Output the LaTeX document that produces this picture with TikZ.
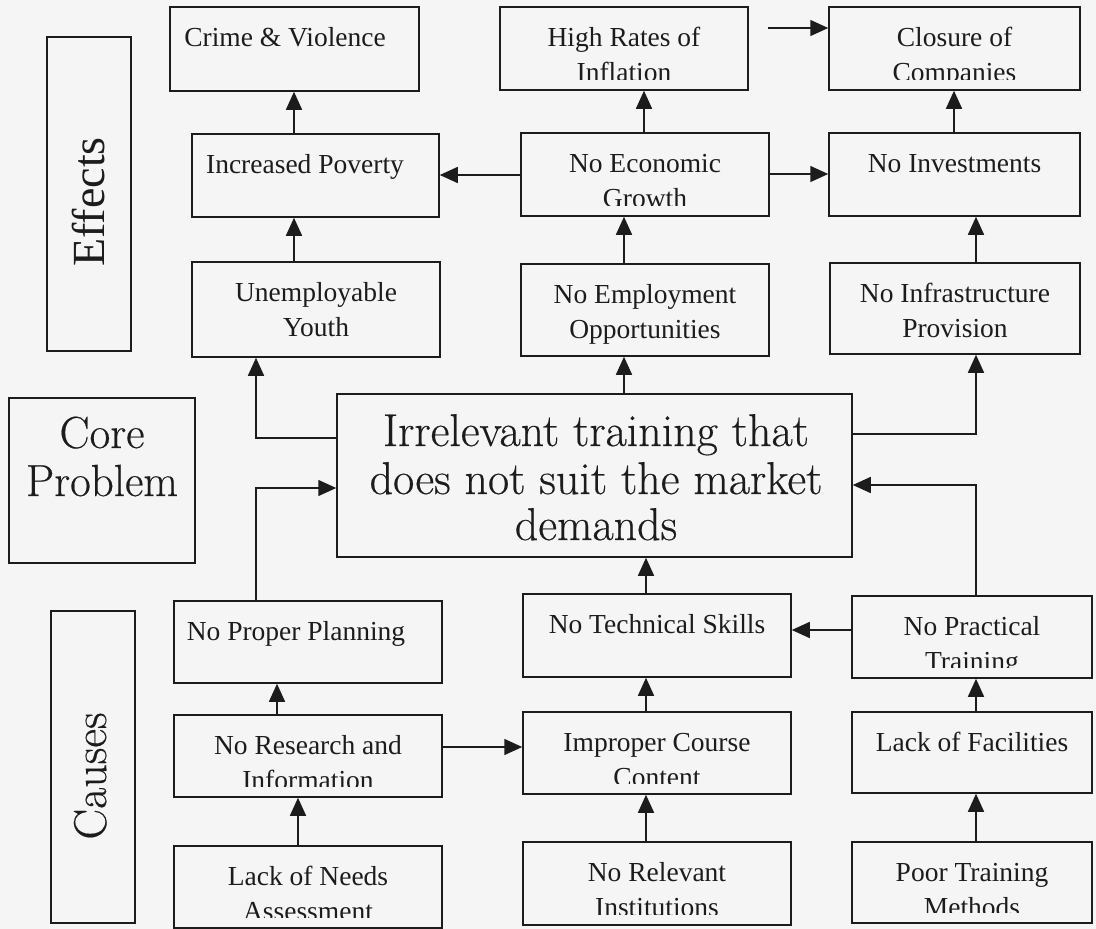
\documentclass[tikz,border=0pt]{standalone}
\usepackage{fontspec}
\newfontfamily\tnr{Liberation Serif}
\newfontfamily\lmb{Latin Modern Roman}[FakeBold=0.4]
\usetikzlibrary{arrows.meta,calc}
\definecolor{bg}{RGB}{245,245,245}
\definecolor{ink}{RGB}{28,28,28}
\tikzset{
  box/.style={draw=ink, line width=1.5pt, inner sep=0pt},
  arr/.style={draw=ink, line width=1.5pt, -{Triangle[length=18pt,width=16pt]}},
  txt/.style={font=\tnr\fontsize{27.5}{33}\selectfont, text=ink, inner sep=0pt, anchor=base},
  big/.style={font=\lmb\fontsize{46}{50}\selectfont, text=ink, inner sep=0pt, anchor=base},
  cpt/.style={font=\lmb\fontsize{45}{50}\selectfont, text=ink, inner sep=0pt, anchor=base},
  eff/.style={font=\tnr\fontsize{46}{50}\selectfont, text=ink, inner sep=0pt, anchor=base},
}
% name, x1, y1, x2, y2, line1, line2, xoffset
\newcommand{\tbox}[8]{%
  \node[box, minimum width={#4pt-#2pt}, minimum height={#5pt-#3pt}] (#1) at ({(#2+#4)/2},{(#3+#5)/2}) {};
  \begin{scope}
    \clip (#2,#3) rectangle (#4,#5-11);
    \node[txt] at ({(#2+#4)/2+#8},#3+39) {#6};
    \node[txt] at ({(#2+#4)/2+#8},#3+74) {#7};
  \end{scope}}
\begin{document}
\begin{tikzpicture}[x=1pt,y=-1pt]
\fill[bg] (0,0) rectangle (1096,929);
\useasboundingbox (0,0) rectangle (1096,929);

% side labels
\node[box, minimum width=84pt, minimum height=314pt] (effbox) at (89,194) {};
\node[eff, rotate=90] (efftext) at (104,202) {Effects};
\node[box, minimum width=186pt, minimum height=165pt] (cpbox) at (102,480.5) {};
\node[cpt] (cp1) at (102,448) {Core};
\node[cpt] (cp2) at (102,496) {Problem};
\node[box, minimum width=84pt, minimum height=312pt] (causebox) at (93,767) {};
\node[big, rotate=90] (causetext) at (106,776) {Causes};

% effects
\tbox{crime}{170}{7}{419}{91}{Crime \& Violence}{}{-9.5}
\tbox{high}{500}{7}{748}{90}{High Rates of}{Inflation}{0}
\tbox{closure}{829}{7}{1080}{90}{Closure of}{Companies}{0}
\tbox{poverty}{192}{134}{439}{217}{Increased Poverty}{}{-10.5}
\tbox{econ}{521}{133}{769}{216}{No Economic}{Growth}{0}
\tbox{invest}{829}{133}{1080}{216}{No Investments}{}{0}
\tbox{youth}{192}{262}{440}{357}{Unemployable}{Youth}{0}
\tbox{employ}{521}{264}{769}{356}{No Employment}{Opportunities}{0}
\tbox{infra}{830}{263}{1080}{354}{No Infrastructure}{Provision}{0}

% core
\node[box, minimum width=515pt, minimum height=163pt] (core) at (594.5,475.5) {};
\node[big] (core1) at (596,446) {Irrelevant training that};
\node[big] (core2) at (596,494) {does not suit the market};
\node[big] (core3) at (596,540) {demands};

% causes
\tbox{planning}{174}{601}{442}{683}{No Proper Planning}{}{-12}
\tbox{technical}{523}{594}{791}{677}{No Technical Skills}{}{0}
\tbox{practical}{852}{596}{1092}{678}{No Practical}{Training}{0}
\tbox{research}{174}{715}{442}{797}{No Research and}{Information}{0}
\tbox{improper}{523}{712}{791}{794}{Improper Course}{Content}{0}
\tbox{facilities}{852}{712}{1092}{793}{Lack of Facilities}{}{0}
\tbox{needs}{174}{846}{442}{928}{Lack of Needs}{Assessment}{0}
\tbox{relevant}{523}{842}{791}{925}{No Relevant}{Institutions}{0}
\tbox{poor}{852}{842}{1092}{923}{Poor Training}{Methods}{0}

% helper coordinates
\coordinate (x294) at (294,0);
\coordinate (x644) at (644,0);
\coordinate (x954) at (954,0);
\coordinate (x624) at (624,0);
\coordinate (x976) at (976,0);
\coordinate (x256) at (256,0);
\coordinate (x646) at (646,0);
\coordinate (x277) at (277,0);
\coordinate (x298) at (298,0);
\coordinate (y175) at (0,175);
\coordinate (y174) at (0,174);
\coordinate (y438) at (0,438);
\coordinate (y434) at (0,434);
\coordinate (y488) at (0,488);
\coordinate (y485) at (0,485);
\coordinate (y630) at (0,630);
\coordinate (y747) at (0,747);
\coordinate (fa) at (768,28);

% effect arrows
\draw[arr] (poverty.north -| x294) -- (crime.south -| x294);
\draw[arr] (youth.north -| x294) -- (poverty.south -| x294);
\draw[arr] (econ.west |- y175) -- (poverty.east |- y175);
\draw[arr] (econ.north -| x644) -- (high.south -| x644);
\draw[arr] (econ.east |- y174) -- (invest.west |- y174);
\draw[arr] (fa) -- (fa -| closure.west);
\draw[arr] (invest.north -| x954) -- (closure.south -| x954);
\draw[arr] (employ.north -| x624) -- (econ.south -| x624);
\draw[arr] (infra.north -| x976) -- (invest.south -| x976);
\draw[arr] (core.north -| x624) -- (employ.south -| x624);
\draw[arr] (core.west |- y438) -| (youth.south -| x256);
\draw[arr] (core.east |- y434) -| (infra.south -| x976);

% cause arrows
\draw[arr] (planning.north -| x256) |- (core.west |- y488);
\draw[arr] (practical.north -| x976) |- (core.east |- y485);
\draw[arr] (technical.north -| x646) -- (core.south -| x646);
\draw[arr] (practical.west |- y630) -- (technical.east |- y630);
\draw[arr] (research.north -| x277) -- (planning.south -| x277);
\draw[arr] (research.east |- y747) -- (improper.west |- y747);
\draw[arr] (needs.north -| x298) -- (research.south -| x298);
\draw[arr] (improper.north -| x646) -- (technical.south -| x646);
\draw[arr] (relevant.north -| x646) -- (improper.south -| x646);
\draw[arr] (facilities.north -| x976) -- (practical.south -| x976);
\draw[arr] (poor.north -| x976) -- (facilities.south -| x976);
\end{tikzpicture}
\end{document}
